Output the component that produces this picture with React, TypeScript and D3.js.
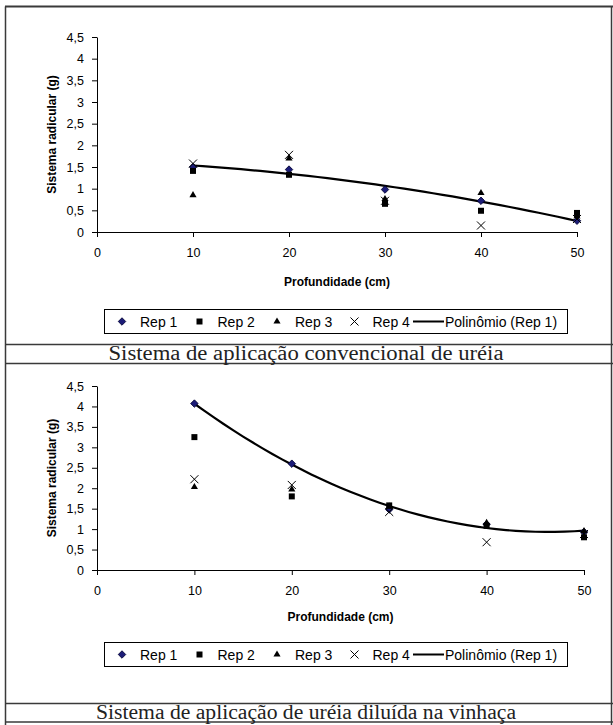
import React, { useRef, useEffect } from 'react';
import * as d3 from 'd3';

// profundidade (cm)
const depths = [10, 20, 30, 40, 50];
const xTicks = [0, 10, 20, 30, 40, 50];
const yTicks = [0, 0.5, 1, 1.5, 2, 2.5, 3, 3.5, 4, 4.5];

// sistema convencional de ureia
const convRep1 = [1.5, 1.44, 0.98, 0.72, 0.26];
const convRep2 = [1.41, 1.32, 0.65, 0.49, 0.44];
const convRep3 = [0.85, 1.7, 0.76, 0.9, 0.36];
const convRep4 = [1.58, 1.78, 0.72, 0.15, 0.3];

// ureia diluida na vinhaca
const vinRep1 = [4.07, 2.6, 1.48, 1.12, 0.93];
const vinRep2 = [3.25, 1.8, 1.58, 1.08, 0.8];
const vinRep3 = [2.03, 1.97, 1.55, 1.15, 0.95];
const vinRep4 = [2.22, 2.08, 1.42, 0.68, 0.88];

const repNames = ['Rep 1', 'Rep 2', 'Rep 3', 'Rep 4'];
const trendName = 'Polinômio (Rep 1)';
const yTitle = 'Sistema radicular (g)';
const xTitle = 'Profundidade (cm)';
const captions = [
  'Sistema de aplicação convencional de uréia',
  'Sistema de aplicação de uréia diluída na vinhaça',
];

const FONT = 'Liberation Sans, Arial, sans-serif';

// least squares, 2nd order (like the Excel trendline)
const fitQuadratic = (xs: number[], ys: number[]) => {
  const S = (p: number) => d3.sum(xs, (x) => x ** p);
  const T = (p: number) => d3.sum(xs, (x, i) => x ** p * ys[i]);
  const m = [
    [S(0), S(1), S(2)],
    [S(1), S(2), S(3)],
    [S(2), S(3), S(4)],
  ];
  const v = [T(0), T(1), T(2)];
  const det = (a: number[][]) =>
    a[0][0] * (a[1][1] * a[2][2] - a[1][2] * a[2][1]) -
    a[0][1] * (a[1][0] * a[2][2] - a[1][2] * a[2][0]) +
    a[0][2] * (a[1][0] * a[2][1] - a[1][1] * a[2][0]);
  const D = det(m);
  const coef = [0, 1, 2].map(
    (c) => det(m.map((row, r) => row.map((val, k) => (k === c ? v[r] : val)))) / D
  );
  return (x: number) => coef[0] + coef[1] * x + coef[2] * x * x;
};

const symbolPaths = [
  { path: d3.symbol(d3.symbolSquare, 28)(), rotate: 45, fill: '#1c1c78', stroke: '#000030', sw: 0.8 },
  { path: d3.symbol(d3.symbolSquare, 36)(), rotate: 0, fill: '#000', stroke: 'none', sw: 0 },
  { path: d3.symbol(d3.symbolTriangle, 22)(), rotate: 0, fill: '#000', stroke: 'none', sw: 0 },
  { path: d3.symbol(d3.symbolX, 44)(), rotate: 0, fill: 'none', stroke: '#000', sw: 1 },
];

const panels = [
  {
    cellTop: 6.5, xRange: [97, 577], yRange: [232, 37], titleY: 282, legendY: 309,
    capTop: 344.5, capText: 360, capBottom: 363.5, capLen: 395,
    reps: [convRep1, convRep2, convRep3, convRep4], caption: captions[0],
  },
  {
    cellTop: 363.5, xRange: [97, 584], yRange: [570, 386], titleY: 617, legendY: 642,
    capTop: 703.5, capText: 719, capBottom: 722, capLen: 420,
    reps: [vinRep1, vinRep2, vinRep3, vinRep4], caption: captions[1],
  },
];

const App = () => {
  const svgRef = useRef<SVGSVGElement>(null);

  useEffect(() => {
    const svg = d3.select(svgRef.current);
    svg.selectAll('*').remove();

    svg.append('rect').attr('width', 613).attr('height', 725).attr('fill', '#fff');

    panels.forEach((p, pi) => {
      const g = svg.append('g');
      const x = d3.scaleLinear().domain([0, 50]).range(p.xRange);
      const y = d3.scaleLinear().domain([0, 4.5]).range(p.yRange);

      // cell frame + caption row
      const frame = g.append('g').attr('stroke', '#3a3a3a').attr('fill', 'none').attr('stroke-width', 1.5);
      const bottom = pi === panels.length - 1 ? 725 : p.capBottom;
      frame.append('line').attr('x1', 5.5).attr('x2', 5.5).attr('y1', p.cellTop).attr('y2', bottom);
      frame.append('line').attr('x1', 611.5).attr('x2', 611.5).attr('y1', p.cellTop).attr('y2', bottom);
      if (pi === 0) {
        frame.append('line').attr('x1', 5).attr('x2', 613).attr('y1', p.cellTop).attr('y2', p.cellTop).attr('stroke-width', 2);
      }
      frame.append('line').attr('x1', 5).attr('x2', 613).attr('y1', p.capTop).attr('y2', p.capTop);
      frame.append('line').attr('x1', 5).attr('x2', 613).attr('y1', p.capBottom).attr('y2', p.capBottom);

      g.append('text')
        .attr('x', 306)
        .attr('y', p.capText)
        .attr('text-anchor', 'middle')
        .attr('font-family', 'Liberation Serif, serif')
        .attr('font-size', 20)
        .attr('textLength', p.capLen)
        .attr('lengthAdjust', 'spacingAndGlyphs')
        .attr('fill', '#222')
        .text(p.caption);

      // axes
      const fmt = (d: d3.NumberValue) => String(d).replace('.', ',');
      g.append('g')
        .attr('transform', `translate(0,${y(0)})`)
        .call(d3.axisBottom(x).tickValues(xTicks).tickSize(5).tickSizeOuter(0).tickPadding(11).tickFormat(fmt))
        .call((a) => a.selectAll('text').attr('font-size', 12.5).attr('font-family', FONT).attr('fill', '#000'));

      g.append('g')
        .attr('transform', `translate(${x(0)},0)`)
        .call(d3.axisLeft(y).tickValues(yTicks).tickSize(5).tickSizeOuter(0).tickPadding(8).tickFormat(fmt))
        .call((a) => a.selectAll('text').attr('font-size', 12.5).attr('font-family', FONT).attr('fill', '#000'));

      g.append('text')
        .attr('transform', `translate(52,${(p.yRange[0] + p.yRange[1]) / 2}) rotate(-90)`)
        .attr('text-anchor', 'middle')
        .attr('dominant-baseline', 'central')
        .attr('font-family', FONT)
        .attr('font-weight', 'bold')
        .attr('font-size', 12)
        .text(yTitle);

      g.append('text')
        .attr('x', (p.xRange[0] + p.xRange[1]) / 2)
        .attr('y', p.titleY)
        .attr('text-anchor', 'middle')
        .attr('dominant-baseline', 'central')
        .attr('font-family', FONT)
        .attr('font-weight', 'bold')
        .attr('font-size', 12)
        .text(xTitle);

      // trendline
      const trend = fitQuadratic(depths, p.reps[0]);
      const line = d3.line<number>().x((d) => x(d)).y((d) => y(trend(d)));
      g.append('path')
        .datum(d3.range(depths[0], depths[depths.length - 1] + 0.01, 1))
        .attr('fill', 'none')
        .attr('stroke', '#000')
        .attr('stroke-width', 2.2)
        .attr('d', line);

      // points
      p.reps.forEach((vals, si) => {
        const s = symbolPaths[si];
        g.append('g')
          .selectAll('path')
          .data(vals)
          .join('path')
          .attr('d', s.path)
          .attr('transform', (d, i) => `translate(${x(depths[i])},${y(d)}) rotate(${s.rotate})`)
          .attr('fill', s.fill)
          .attr('stroke', s.stroke)
          .attr('stroke-width', s.sw);
      });

      // legend
      const lx = 104;
      const ly = p.legendY;
      const leg = g.append('g');
      leg.append('rect')
        .attr('x', lx + 0.5)
        .attr('y', ly + 0.5)
        .attr('width', 463)
        .attr('height', 24)
        .attr('fill', '#fff')
        .attr('stroke', '#000')
        .attr('stroke-width', 1);
      repNames.forEach((name, i) => {
        const s = symbolPaths[i];
        const cx = lx + 18 + i * 77.5;
        leg.append('path')
          .attr('d', s.path)
          .attr('transform', `translate(${cx},${ly + 12.5}) rotate(${s.rotate})`)
          .attr('fill', s.fill)
          .attr('stroke', s.stroke)
          .attr('stroke-width', s.sw);
        leg.append('text')
          .attr('x', cx + 18)
          .attr('y', ly + 12.5)
          .attr('dominant-baseline', 'central')
          .attr('font-family', FONT)
          .attr('font-size', 14)
          .text(name);
      });
      leg.append('line')
        .attr('x1', lx + 309)
        .attr('x2', lx + 340)
        .attr('y1', ly + 12.5)
        .attr('y2', ly + 12.5)
        .attr('stroke', '#000')
        .attr('stroke-width', 2);
      leg.append('text')
        .attr('x', lx + 341)
        .attr('y', ly + 12.5)
        .attr('dominant-baseline', 'central')
        .attr('font-family', FONT)
        .attr('font-size', 14)
        .text(trendName);
    });
  }, []);

  return (
    <svg
      ref={svgRef}
      width={613}
      height={725}
      style={{ position: 'absolute', left: 0, top: 0 }}
    />
  );
};

export default App;
